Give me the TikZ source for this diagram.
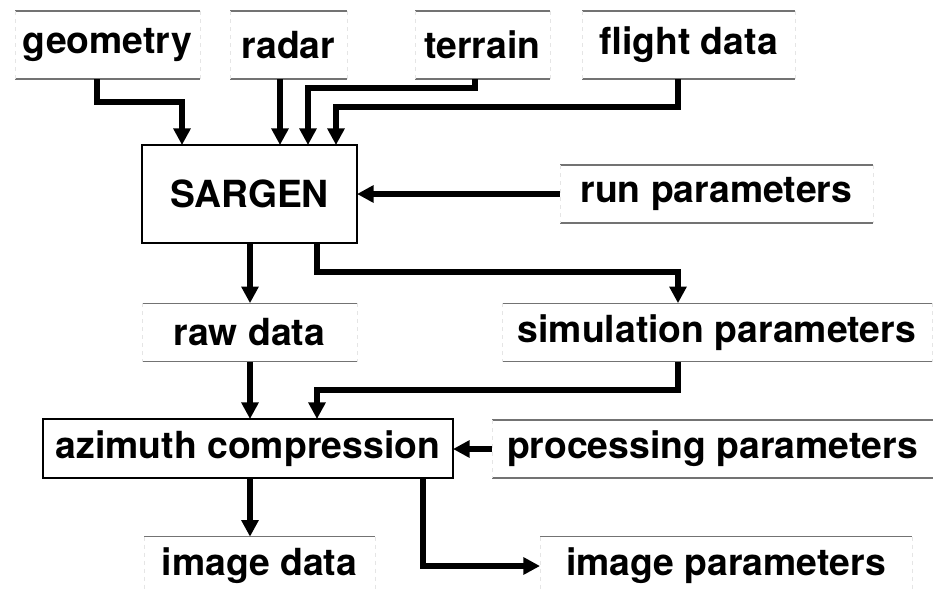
\documentclass[tikz,border=0pt]{standalone}
\usepackage{fontspec}
\setmainfont{TeX Gyre Heros}
\usetikzlibrary{arrows.meta}
\begin{document}
\begin{tikzpicture}[x=0.75pt,y=-0.75pt,
  every node/.style={font=\fontsize{28}{34}\selectfont\bfseries, inner sep=0pt, outer sep=0pt},
  datanode/.style={rectangle, minimum height=44pt},
  procnode/.style={rectangle, draw=black, line width=1.5pt},
  arr/.style={line width=4pt, -{Triangle[width=12.5pt,length=12.5pt]}, line join=miter},
  edgeline/.style={draw=black!55, line width=0.8pt},
  sideline/.style={draw=black!10, line width=0.5pt, dashed}]
\useasboundingbox (0,0) rectangle (933,590);
% data nodes
\node[datanode, minimum width=138.75pt, minimum height=51pt] (geometry) at (107.5,45) {geometry};
\node[datanode, minimum width=87.75pt, minimum height=51pt] (radar) at (288.5,45) {radar};
\node[datanode, minimum width=101.25pt, minimum height=51pt] (terrain) at (482.5,45) {terrain};
\node[datanode, minimum width=159.75pt, minimum height=51pt] (flight) at (688.5,45) {flight data};
\node[datanode, minimum width=234.75pt, minimum height=43.5pt] (run) at (716.5,194) {run parameters};
\node[datanode, minimum width=161.25pt] (raw) at (249.5,332.5) {raw data};
\node[datanode, minimum width=322.5pt] (sim) at (717,332.5) {simulation parameters};
\node[datanode, minimum width=330.75pt, minimum height=43.5pt] (proc) at (712.5,449) {processing parameters};
\node[datanode, minimum width=173.25pt] (imgdata) at (259.5,566) {image data};
\node[datanode, minimum width=279pt] (imgpar) at (726,566) {image parameters};
% process nodes
\node[procnode, minimum width=161.25pt, minimum height=73.5pt] (sargen) at (249.5,194) {SARGEN};
\node[procnode, minimum width=307.5pt, minimum height=44.25pt] (az) at (248,448.5) {azimuth compression};
% faint borders of data nodes
\foreach \n in {geometry,radar,terrain,flight,run,raw,sim,proc,imgdata,imgpar}{
  \draw[edgeline] (\n.north west) -- (\n.north east) (\n.south west) -- (\n.south east);
  \draw[sideline] (\n.north west) -- (\n.south west) (\n.north east) -- (\n.south east);
}
% connectors
\draw[arr] (geometry.south -| 97,0) |- (182,102) -- (sargen.north -| 182,0);
\draw[arr] (radar.south -| 280,0) -- (sargen.north -| 280,0);
\draw[arr] (terrain.south -| 475,0) |- (308,88) -- (sargen.north -| 308,0);
\draw[arr] (flight.south -| 678,0) |- (336,107) -- (sargen.north -| 336,0);
\draw[arr] (run.west) -- (sargen.east |- run.west);
\draw[arr] (sargen.south -| 250,0) -- (raw.north -| 250,0);
\draw[arr] (sargen.south -| 317,0) |- (678,272) -- (sim.north -| 678,0);
\draw[arr] (raw.south -| 250,0) -- (az.north -| 250,0);
\draw[arr] (sim.south -| 678,0) |- (317,390) -- (az.north -| 317,0);
\draw[arr] (proc.west) -- (az.east |- proc.west);
\draw[arr] (az.south -| 250,0) -- (imgdata.north -| 250,0);
\draw[arr] (az.south -| 423,0) |- (imgpar.west);
\end{tikzpicture}
\end{document}
